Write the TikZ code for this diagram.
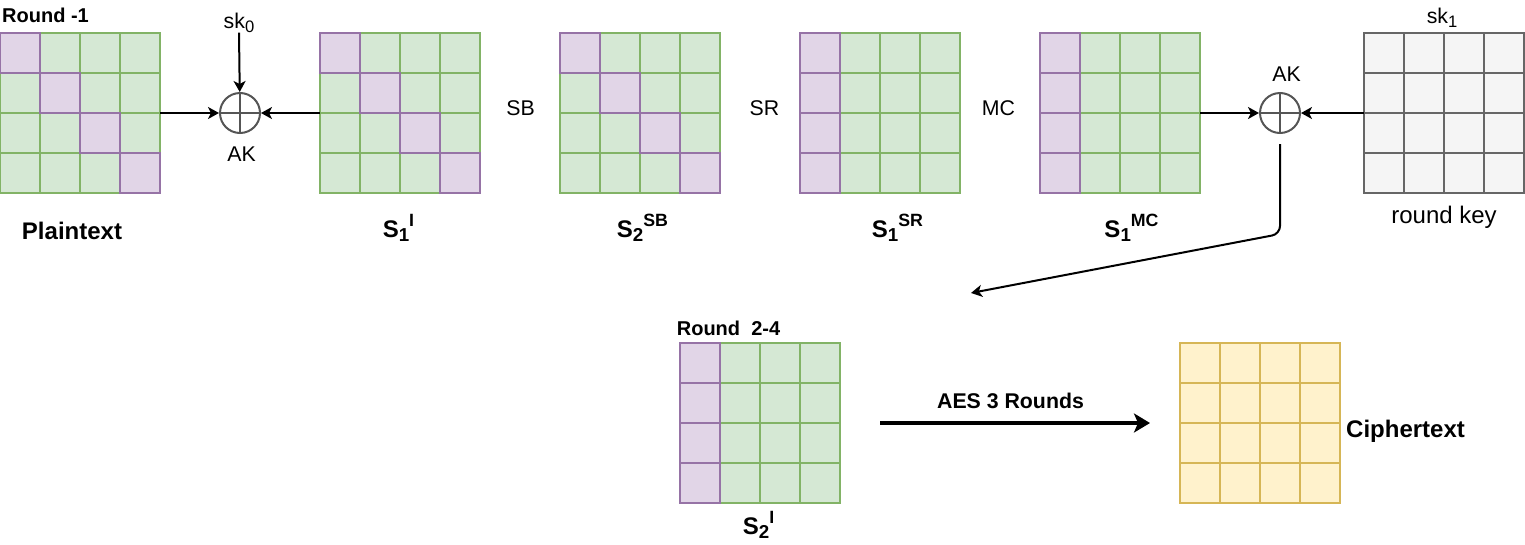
\documentclass[tikz,border=0pt]{standalone}
\usepackage{fontspec}
\setmainfont{Liberation Sans}
\usetikzlibrary{arrows.meta}

\definecolor{greenfill}{HTML}{D5E8D4}
\definecolor{greenline}{HTML}{82B366}
\definecolor{purplefill}{HTML}{E1D5E7}
\definecolor{purpleline}{HTML}{9673A6}
\definecolor{grayfill}{HTML}{F5F5F5}
\definecolor{grayline}{HTML}{666666}
\definecolor{yellowfill}{HTML}{FFF2CC}
\definecolor{yellowline}{HTML}{D6B656}
\definecolor{xorline}{HTML}{555555}

\tikzset{
    greencell/.style={draw=greenline, fill=greenfill, line width=1.1pt},
    purplecell/.style={draw=purpleline, fill=purplefill, line width=1.1pt},
    graycell/.style={draw=grayline, fill=grayfill, line width=1.1pt},
    yellowcell/.style={draw=yellowline, fill=yellowfill, line width=1.1pt},
    gridbox/.style={minimum size=160pt, inner sep=0pt, outer sep=0pt},
    xorop/.style={circle, draw=xorline, line width=2pt, minimum size=40pt, inner sep=0pt},
    link/.style={line width=2pt, -{Stealth[length=11pt,width=12pt,inset=3pt]}},
    bigarrow/.style={line width=3.5pt, -{Stealth[length=16pt,width=19pt,inset=4pt]}},
    lbl/.style={font=\fontsize{21.3}{25}\selectfont, inner sep=0pt, anchor=base},
    keylbl/.style={font=\fontsize{24}{28}\selectfont, inner sep=0pt, anchor=base},
    statelbl/.style={font=\fontsize{24}{28}\selectfont\bfseries, inner sep=0pt, anchor=base},
    roundlbl/.style={font=\fontsize{20}{24}\selectfont\bfseries, inner sep=0pt, anchor=base}
}

\newcommand{\lowtxt}[1]{\raisebox{-0.2em}{\scalebox{0.78}{#1}}}
\newcommand{\hightxt}[1]{\raisebox{0.42em}{\scalebox{0.74}{#1}}}

\newcommand{\stategrid}[4]{%
    \node[gridbox] (#1) at (#2+80,#3+80) {};
    \foreach \c in {0,...,3}
        \foreach \r in {0,...,3}
            \draw[#4] (#2+\c*40,#3+\r*40) rectangle ++(40,40);
}

\begin{document}
\begin{tikzpicture}[x=1pt, y=-1pt]
    \useasboundingbox (0,0) rectangle (1525,544);

    \stategrid{pt}{0}{33}{greencell}
    \stategrid{s1i}{320}{33}{greencell}
    \stategrid{s2sb}{560}{33}{greencell}
    \stategrid{s1sr}{800}{33}{greencell}
    \stategrid{s1mc}{1040}{33}{greencell}
    \stategrid{rk}{1364}{33}{graycell}
    \stategrid{s2i}{680}{343}{greencell}
    \stategrid{ct}{1180}{343}{yellowcell}

    \foreach \gx in {0,320,560}
        \foreach \k in {0,...,3}
            \draw[purplecell] (\gx+\k*40,33+\k*40) rectangle ++(40,40);
    \foreach \gx/\gy in {800/33,1040/33,680/343}
        \foreach \k in {0,...,3}
            \draw[purplecell] (\gx,\gy+\k*40) rectangle ++(40,40);

    \node[xorop] (ak0) at (240,113) {};
    \node[xorop] (ak1) at (1280,113) {};
    \foreach \op in {ak0,ak1}
        \draw[draw=xorline, line width=2pt] (\op.north) -- (\op.south) (\op.west) -- (\op.east);

    \node[roundlbl, anchor=base west] (r1) at (2,22.5) {Round -1};
    \node[lbl] (sk0) at (239,28) {sk\lowtxt{0}};
    \node[lbl] (ak0lbl) at (241.5,161.5) {AK};
    \node[lbl] (sb) at (520.5,115.5) {SB};
    \node[lbl] (sr) at (764.5,115.5) {SR};
    \node[lbl] (mc) at (998.5,115.5) {MC};
    \node[lbl] (ak1lbl) at (1286.5,81) {AK};
    \node[lbl] (sk1) at (1442,23) {sk\lowtxt{1}};
    \node[keylbl] (rklbl) at (1444,223) {round key};

    \node[statelbl] (ptlbl) at (72,239) {Plaintext};
    \node[statelbl] (s1ilbl) at (398.5,237) {S\lowtxt{1}\hightxt{I}};
    \node[statelbl] (s2sblbl) at (642.5,237) {S\lowtxt{2}\hightxt{SB}};
    \node[statelbl] (s1srlbl) at (897.5,237) {S\lowtxt{1}\hightxt{SR}};
    \node[statelbl] (s1mclbl) at (1131.5,237) {S\lowtxt{1}\hightxt{MC}};

    \node[roundlbl] (r24) at (728.5,335.5) {Round~~2-4};
    \node[statelbl] (s2ilbl) at (758.5,534) {S\lowtxt{2}\hightxt{I}};
    \node[lbl, font=\fontsize{21.3}{25}\selectfont\bfseries] (aes) at (1010.5,408.5) {AES 3 Rounds};
    \node[statelbl] (ctlbl) at (1405.5,437.5) {Ciphertext};

    \coordinate (bend) at (1280,234);
    \coordinate (next) at (971,293);

    \draw[link] (pt.east) -- (ak0);
    \draw[link] (s1i.west) -- (ak0);
    \draw[link] (sk0.south) -- (ak0);
    \draw[link] (s1mc.east) -- (ak1);
    \draw[link] (rk.west) -- (ak1);
    \draw[link, rounded corners=8pt, shorten <=10pt] (ak1.south) -- (bend) -- (next);
    \draw[bigarrow, shorten <=40pt, shorten >=30pt] (s2i.east) -- (ct.west);
\end{tikzpicture}
\end{document}
